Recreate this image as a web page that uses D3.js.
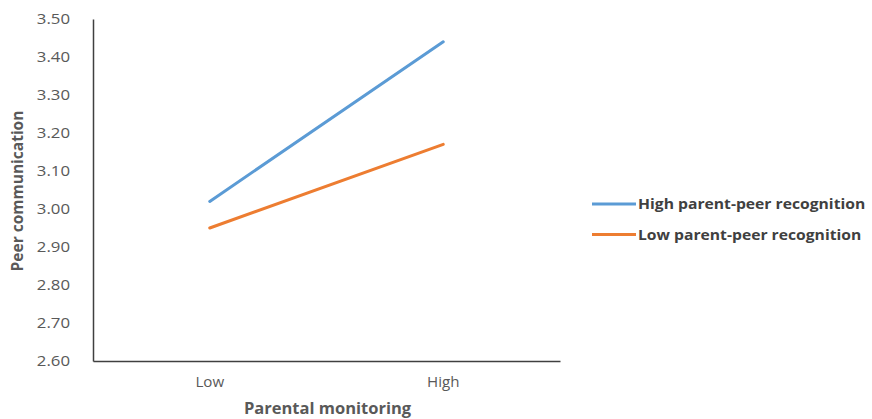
<!DOCTYPE html>
<html><head><meta charset="utf-8">
<script src="https://cdn.jsdelivr.net/npm/d3@7"></script>
<style>body{margin:0;background:#fff;} svg{display:block;}</style>
</head><body>
<svg id="chart" width="872" height="419"></svg>
<script>
const categories = ["Low", "High"];
const seriesNames = ["High parent-peer recognition", "Low parent-peer recognition"];
const highRecognition = [3.02, 3.44];
const lowRecognition = [2.95, 3.17];
const yTicks = [2.60, 2.70, 2.80, 2.90, 3.00, 3.10, 3.20, 3.30, 3.40, 3.50];
const colors = ["#5b9bd5", "#ed7d31"];

(function () {
const svg = d3.select("#chart");
const mL = 93, mR = 560, mT = 19, mB = 361;
const x = d3.scaleBand().domain(categories).range([mL, mR]);
const y = d3.scaleLinear().domain([2.6, 3.5]).range([mB, mT]);
const font = "'Open Sans', Lato, sans-serif";
const sx = 1.2;

// y axis
const yAxis = svg.append("g").attr("transform", `translate(${mL},0)`)
  .call(d3.axisLeft(y).tickValues(yTicks).tickFormat(d3.format(".2f")).tickSize(0).tickPadding(23));
yAxis.select(".domain").attr("stroke", "#404040").attr("stroke-width", 1.5);
yAxis.selectAll("text").attr("font-family", font).attr("font-size", 14).attr("fill", "#595959")
  .attr("x", -23 / sx).attr("transform", `scale(${sx},1)`);

// x axis
const xAxis = svg.append("g").attr("transform", `translate(0,${mB})`)
  .call(d3.axisBottom(x).tickSize(0).tickPadding(16));
xAxis.select(".domain").attr("stroke", "#404040").attr("stroke-width", 1.5);
xAxis.selectAll("text").attr("font-family", font).attr("font-size", 14).attr("fill", "#595959")
  .attr("transform", "scale(1.08,1)");

// lines
const line = d3.line().x((d, i) => x(categories[i]) + x.bandwidth() / 2).y(d => y(d));
[highRecognition, lowRecognition].forEach((s, i) => {
  svg.append("path").datum(s).attr("d", line).attr("fill", "none")
    .attr("stroke", colors[i]).attr("stroke-width", 3).attr("stroke-linecap", "round");
});

// axis titles
svg.append("text").attr("transform", "translate(23,191) rotate(-90)").attr("text-anchor", "middle")
  .attr("font-family", font).attr("font-weight", "bold").attr("font-size", 15.5).attr("fill", "#595959")
  .text("Peer communication");
svg.append("text").attr("x", 327.5).attr("y", 414).attr("text-anchor", "middle")
  .attr("font-family", font).attr("font-weight", "bold").attr("font-size", 16.5).attr("fill", "#595959")
  .text("Parental monitoring");

// legend
seriesNames.forEach((n, i) => {
  const ly = 204 + i * 30.5;
  svg.append("line").attr("x1", 592).attr("x2", 636).attr("y1", ly).attr("y2", ly)
    .attr("stroke", colors[i]).attr("stroke-width", 3);
  svg.append("text").attr("transform", `translate(638,${ly}) scale(1.12,1)`).attr("dy", "0.36em")
    .attr("font-family", font).attr("font-weight", "bold").attr("font-size", 14).attr("fill", "#404040")
    .text(n);
});
})();
</script>
</body></html>
